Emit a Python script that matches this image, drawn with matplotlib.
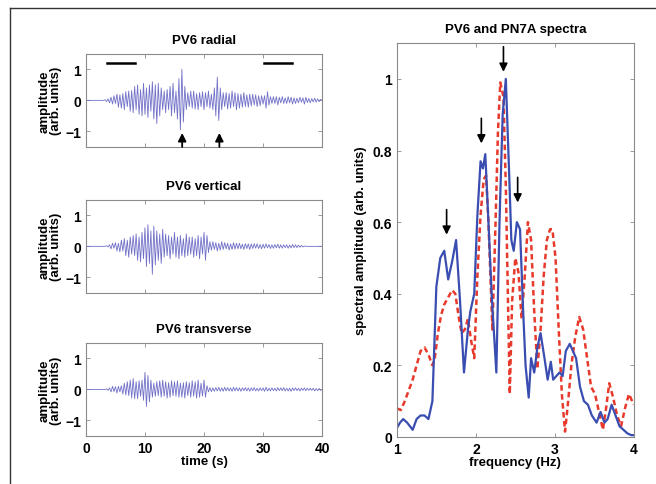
import numpy as np
import matplotlib
matplotlib.use("Agg")
import matplotlib.pyplot as plt
from matplotlib.lines import Line2D

plt.rcParams['font.family'] = ['Liberation Sans', 'DejaVu Sans']
plt.rcParams['font.weight'] = 'bold'
plt.rcParams['axes.labelweight'] = 'bold'
plt.rcParams['axes.titleweight'] = 'bold'
plt.rcParams['font.size'] = 9.5

# seismogram extrema, one value every 0.25 s from 0 to 40 s
radial = [
    0, 0, 0, 0, 0, 0, 0, 0,
    0, 0, 0, 0, 0, 0.02, -0.04, 0.05,
    -0.08, 0.1, -0.12, 0.15, -0.1, 0.2, -0.22, 0.18,
    -0.25, 0.22, -0.3, 0.28, -0.2, 0.3, -0.35, 0.32,
    -0.4, 0.45, -0.3, 0.5, -0.45, 0.35, -0.5, 0.55,
    -0.45, 0.4, -0.55, 0.5, -0.35, 0.6, -0.6, 0.5,
    -0.75, 0.55, -0.5, 0.4, -0.3, 0.3, -0.4, 0.35,
    -0.3, 0.45, -0.5, 0.55, -0.4, 0.3, -0.6, 0.7,
    -0.95, 1.0, -0.7, 0.45, -0.3, 0.25, -0.2, 0.3,
    -0.25, 0.3, -0.28, 0.22, -0.3, 0.25, -0.2, 0.28,
    -0.3, 0.25, -0.2, 0.3, -0.25, 0.2, -0.3, 0.4,
    -0.5, 0.75, -0.65, 0.4, -0.3, 0.25, -0.2, 0.25,
    -0.28, 0.22, -0.25, 0.3, -0.2, 0.25, -0.3, 0.22,
    -0.25, 0.2, -0.22, 0.25, -0.2, 0.18, -0.22, 0.2,
    -0.18, 0.2, -0.15, 0.18, -0.2, 0.15, -0.17, 0.15,
    -0.12, 0.15, -0.25, 0.28, -0.15, 0.12, -0.1, 0.12,
    -0.1, 0.12, -0.15, 0.1, -0.08, 0.12, -0.1, 0.08,
    -0.1, 0.12, -0.08, 0.1, -0.12, 0.08, -0.1, 0.07,
    -0.08, 0.1, -0.06, 0.08, -0.12, 0.1, -0.07, 0.06,
    -0.08, 0.06, -0.05, 0.07, -0.06, 0.05, -0.04, 0.03,
    0.0,
]

vertical = [
    0, 0, 0, 0, 0, 0, 0, 0,
    0, 0, 0, 0, 0, 0, 0.02, -0.02,
    0.05, -0.08, 0.1, -0.06, 0.12, -0.15, 0.1, -0.18,
    0.2, -0.15, 0.25, -0.3, 0.2, -0.35, 0.3, -0.25,
    0.35, -0.3, 0.4, -0.45, 0.3, -0.5, 0.45, -0.4,
    0.6, -0.65, 0.7, -0.55, 0.5, -0.9, 0.65, -0.6,
    0.5, -0.45, 0.4, -0.55, 0.55, -0.35, 0.4, -0.3,
    0.35, -0.4, 0.3, -0.25, 0.45, -0.35, 0.3, -0.4,
    0.35, -0.3, 0.25, -0.35, 0.4, -0.3, 0.3, -0.25,
    0.3, -0.35, 0.25, -0.3, 0.35, -0.4, 0.3, -0.25,
    0.45, -0.45, 0.35, -0.2, 0.15, -0.12, 0.15, -0.1,
    0.12, -0.15, 0.1, -0.12, 0.15, -0.1, 0.12, -0.08,
    0.1, -0.12, 0.08, -0.1, 0.12, -0.09, 0.1, -0.08,
    0.1, -0.08, 0.07, -0.1, 0.09, -0.07, 0.08, -0.1,
    0.08, -0.07, 0.09, -0.06, 0.08, -0.07, 0.06, -0.08,
    0.07, -0.06, 0.08, -0.05, 0.06, -0.07, 0.05, -0.06,
    0.06, -0.05, 0.07, -0.06, 0.05, -0.06, 0.05, -0.04,
    0.05, -0.06, 0.04, -0.05, 0.06, -0.04, 0.05, -0.04,
    0.04, -0.03, 0.03, -0.02, 0.01, 0, 0, 0,
    0, 0, 0, 0, 0, 0, 0, 0,
    0.0,
]

transverse = [
    0, 0, 0, 0, 0, 0, 0, 0,
    0, 0, 0, 0, 0, 0, 0.02, -0.03,
    0.05, -0.08, 0.1, -0.07, 0.09, -0.12, 0.1, -0.08,
    0.12, -0.15, 0.2, -0.18, 0.25, -0.2, 0.3, -0.28,
    0.35, -0.3, 0.25, -0.3, 0.28, -0.22, 0.3, -0.35,
    0.55, -0.55, 0.45, -0.4, 0.3, -0.25, 0.2, -0.22,
    0.25, -0.2, 0.28, -0.25, 0.3, -0.22, 0.25, -0.28,
    0.22, -0.25, 0.28, -0.2, 0.25, -0.22, 0.28, -0.25,
    0.2, -0.25, 0.22, -0.28, 0.25, -0.2, 0.22, -0.25,
    0.28, -0.22, 0.25, -0.28, 0.3, -0.25, 0.2, -0.22,
    0.3, -0.25, 0.12, -0.08, 0.06, -0.07, 0.05, -0.06,
    0.06, -0.05, 0.07, -0.06, 0.05, -0.06, 0.07, -0.05,
    0.06, -0.05, 0.05, -0.06, 0.07, -0.05, 0.06, -0.05,
    0.05, -0.06, 0.05, -0.04, 0.06, -0.05, 0.05, -0.06,
    0.05, -0.04, 0.06, -0.05, 0.04, -0.05, 0.05, -0.04,
    0.05, -0.06, 0.07, -0.05, 0.04, -0.05, 0.05, -0.04,
    0.04, -0.05, 0.06, -0.04, 0.05, -0.04, 0.06, -0.05,
    0.04, -0.05, 0.04, -0.06, 0.05, -0.04, 0.05, -0.04,
    0.04, -0.05, 0.04, -0.03, 0.05, -0.04, 0.04, -0.03,
    0.04, -0.03, 0.04, -0.05, 0.03, -0.04, 0.03, -0.03,
    0.0,
]

# spectra
pv6_freq = [1.0, 1.04, 1.08, 1.13, 1.2, 1.25, 1.3, 1.35, 1.4, 1.45,
            1.5, 1.55, 1.6, 1.65, 1.7, 1.75, 1.8, 1.85, 1.9, 1.93,
            1.98, 2.02, 2.06, 2.09, 2.12, 2.16, 2.2, 2.26, 2.3, 2.34,
            2.38, 2.42, 2.45, 2.48, 2.52, 2.56, 2.6, 2.63, 2.67, 2.7,
            2.74, 2.78, 2.82, 2.87, 2.91, 2.95, 2.98, 3.02, 3.06, 3.1,
            3.14, 3.19, 3.23, 3.27, 3.32, 3.37, 3.42, 3.47, 3.53, 3.58,
            3.63, 3.67, 3.72, 3.77, 3.82, 3.87, 3.92, 3.97, 4.0]
pv6_amp = [0.025, 0.04, 0.05, 0.04, 0.02, 0.05, 0.06, 0.06, 0.05, 0.1,
           0.42, 0.5, 0.52, 0.44, 0.49, 0.55, 0.38, 0.18, 0.3, 0.35,
           0.4, 0.62, 0.77, 0.75, 0.79, 0.6, 0.4, 0.18, 0.6, 0.9,
           1.0, 0.75, 0.55, 0.52, 0.6, 0.58, 0.35, 0.2, 0.11, 0.22,
           0.18, 0.25, 0.29, 0.22, 0.16, 0.21, 0.16, 0.17, 0.18, 0.17,
           0.24, 0.26, 0.24, 0.22, 0.14, 0.1, 0.09, 0.06, 0.04, 0.07,
           0.04, 0.05, 0.09, 0.06, 0.03, 0.02, 0.01, 0.005, 0.005]

pn7a_freq = [1.0, 1.05, 1.1, 1.15, 1.2, 1.25, 1.3, 1.35, 1.4, 1.45,
             1.48, 1.52, 1.56, 1.6, 1.65, 1.7, 1.74, 1.78, 1.82, 1.86,
             1.9, 1.94, 1.98, 2.02, 2.06, 2.1, 2.13, 2.16, 2.19, 2.21,
             2.25, 2.28, 2.31, 2.35, 2.38, 2.41, 2.43, 2.46, 2.5, 2.54,
             2.58, 2.62, 2.66, 2.7, 2.74, 2.78, 2.82, 2.86, 2.9, 2.94,
             2.97, 3.01, 3.05, 3.09, 3.13, 3.17, 3.21, 3.26, 3.31, 3.36,
             3.41, 3.46, 3.51, 3.56, 3.61, 3.65, 3.69, 3.74, 3.79, 3.84,
             3.89, 3.94, 3.98, 4.0]
pn7a_amp = [0.08, 0.075, 0.1, 0.13, 0.16, 0.2, 0.24, 0.25, 0.23, 0.2,
            0.22, 0.29, 0.34, 0.37, 0.39, 0.41, 0.4, 0.34, 0.29, 0.3,
            0.33, 0.27, 0.22, 0.45, 0.62, 0.72, 0.73, 0.6, 0.42, 0.3,
            0.6, 0.85, 0.99, 0.95, 0.7, 0.35, 0.12, 0.38, 0.5, 0.46,
            0.33, 0.45, 0.6, 0.55, 0.35, 0.19, 0.3, 0.45, 0.55, 0.58,
            0.58, 0.5, 0.3, 0.12, 0.015, 0.1, 0.2, 0.28, 0.335, 0.3,
            0.22, 0.14, 0.12, 0.07, 0.02, 0.08, 0.15, 0.11, 0.06, 0.03,
            0.08, 0.12, 0.1, 0.09]

# annotations
radial_arrows_t = [16.3, 22.6]
radial_bars = [(3.6, 8.3), (30.2, 34.9)]
spec_arrows = [(1.63, 0.565), (2.07, 0.82), (2.35, 1.02), (2.53, 0.655)]

trace_color = '#7070c8'
blue = '#3a4db0'
red = '#e83a2c'

fig = plt.figure(figsize=(6.56, 4.85), dpi=100)

# outer frame (top and left edges)
fig.add_artist(Line2D([10 / 656, 1], [1 - 9 / 485, 1 - 9 / 485],
                      transform=fig.transFigure, color='#333333', lw=1.0))
fig.add_artist(Line2D([10 / 656, 10 / 656], [0, 1 - 9 / 485],
                      transform=fig.transFigure, color='#333333', lw=1.0))


def style_axes(ax):
    for s in ax.spines.values():
        s.set_color('#8a8a8a')
        s.set_linewidth(0.8)
    ax.tick_params(direction='in', length=3, width=0.6, color='#8a8a8a',
                   top=True, right=True, labelcolor='black', labelsize=10)


traces = [radial, vertical, transverse]
titles = ['PV6 radial', 'PV6 vertical', 'PV6 transverse']
bottoms = [0.695, 0.394, 0.099]
for i, (tr, title, b) in enumerate(zip(traces, titles, bottoms)):
    ax = fig.add_axes([0.131, b, 0.360, 0.192])
    t = np.linspace(0, 40, len(tr))
    ax.plot(t, tr, color=trace_color, lw=0.6)
    ax.set_xlim(0, 40)
    ax.set_ylim(-1.5, 1.5)
    ax.set_yticks([-1, 0, 1])
    ax.set_yticklabels(['\u22121', '0', '1'])
    ax.set_xticks([0, 10, 20, 30, 40])
    if i < 2:
        ax.set_xticklabels([])
    else:
        ax.set_xlabel('time (s)', labelpad=0)
    ax.set_ylabel('amplitude\n(arb. units)', linespacing=1.0, labelpad=2)
    ax.set_title(title, fontsize=9.5, pad=8)
    style_axes(ax)
    if i == 0:
        for x0, x1 in radial_bars:
            ax.plot([x0, x1], [1.2, 1.2], color='black', lw=1.8)
        for ta in radial_arrows_t:
            ax.annotate('', xy=(ta, -1.05), xytext=(ta, -1.5),
                        arrowprops=dict(arrowstyle='-|>', color='black', lw=1.3,
                                        mutation_scale=12, shrinkA=0, shrinkB=0))

ax = fig.add_axes([0.605, 0.097, 0.361, 0.812])
ax.plot(pn7a_freq, pn7a_amp, color=red, lw=1.8, ls=(0, (2.2, 1.4)))
ax.plot(pv6_freq, pv6_amp, color=blue, lw=1.6)
ax.set_xlim(1, 4)
ax.set_ylim(0, 1.1)
ax.set_xticks([1, 2, 3, 4])
ax.set_yticks([0, 0.2, 0.4, 0.6, 0.8, 1.0])
ax.set_yticklabels(['0', '0.2', '0.4', '0.6', '0.8', '1'])
ax.set_xlabel('frequency (Hz)', labelpad=0)
ax.set_ylabel('spectral amplitude (arb. units)', labelpad=4)
ax.set_title('PV6 and PN7A spectra', fontsize=9.5, pad=8)
style_axes(ax)
for fx, fy in spec_arrows:
    ax.annotate('', xy=(fx, fy), xytext=(fx, fy + 0.07),
                arrowprops=dict(arrowstyle='-|>', color='black', lw=1.2,
                                mutation_scale=12, shrinkA=0, shrinkB=0))

fig.savefig('out.png', dpi=100)
